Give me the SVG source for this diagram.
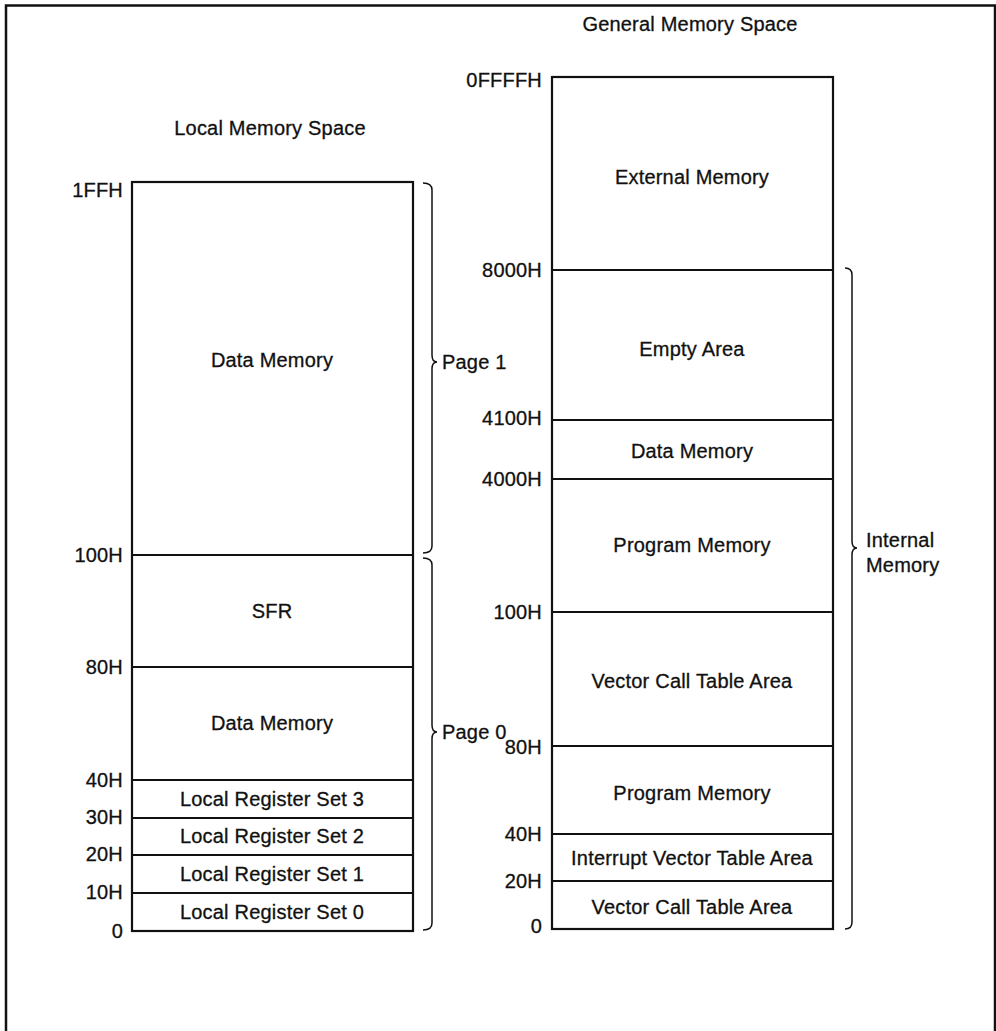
<svg xmlns="http://www.w3.org/2000/svg" width="996" height="1031" viewBox="0 0 996 1031">
<style>
text{font-family:"Liberation Sans",Arial,Helvetica,sans-serif;font-size:20px;fill:#111;stroke:#111;stroke-width:0.3;letter-spacing:0.2px}
.c{text-anchor:middle}
.r{text-anchor:end}
.box{fill:none;stroke:#111;stroke-width:2.2}
.div{stroke:#111;stroke-width:1.8}
.brace{fill:none;stroke:#111;stroke-width:1.5}
</style>
<rect width="996" height="1031" fill="#fff"/>
<g id="frame"><path d="M6 1031 V5.5 H995 V1031" fill="none" stroke="#111" stroke-width="2.5"/></g>

<g id="local-space">
<text class="c" x="270" y="135">Local Memory Space</text>
<rect class="box" x="132" y="182" width="281" height="749"/>
<g id="l-data1"><text class="c" x="272" y="367">Data Memory</text></g>
<line class="div" x1="132" y1="555" x2="413" y2="555"/>
<g id="l-sfr"><text class="c" x="272" y="618">SFR</text></g>
<line class="div" x1="132" y1="667" x2="413" y2="667"/>
<g id="l-data0"><text class="c" x="272" y="730">Data Memory</text></g>
<line class="div" x1="132" y1="780" x2="413" y2="780"/>
<g id="l-rs3"><text class="c" x="272" y="806">Local Register Set 3</text></g>
<line class="div" x1="132" y1="818" x2="413" y2="818"/>
<g id="l-rs2"><text class="c" x="272" y="843">Local Register Set 2</text></g>
<line class="div" x1="132" y1="855" x2="413" y2="855"/>
<g id="l-rs1"><text class="c" x="272" y="881">Local Register Set 1</text></g>
<line class="div" x1="132" y1="893" x2="413" y2="893"/>
<g id="l-rs0"><text class="c" x="272" y="919">Local Register Set 0</text></g>
<text class="r" x="123" y="197">1FFH</text>
<text class="r" x="123" y="562">100H</text>
<text class="r" x="123" y="674">80H</text>
<text class="r" x="123" y="787">40H</text>
<text class="r" x="123" y="824">30H</text>
<text class="r" x="123" y="861">20H</text>
<text class="r" x="123" y="899">10H</text>
<text class="r" x="123" y="938">0</text>
</g>

<g id="general-space">
<text class="c" x="690" y="31">General Memory Space</text>
<rect class="box" x="552" y="77" width="281" height="852"/>
<g id="g-ext"><text class="c" x="692" y="184">External Memory</text></g>
<line class="div" x1="552" y1="270" x2="833" y2="270"/>
<g id="g-empty"><text class="c" x="692" y="356">Empty Area</text></g>
<line class="div" x1="552" y1="420" x2="833" y2="420"/>
<g id="g-data"><text class="c" x="692" y="458">Data Memory</text></g>
<line class="div" x1="552" y1="479" x2="833" y2="479"/>
<g id="g-prog1"><text class="c" x="692" y="552">Program Memory</text></g>
<line class="div" x1="552" y1="612" x2="833" y2="612"/>
<g id="g-vct1"><text class="c" x="692" y="688">Vector Call Table Area</text></g>
<line class="div" x1="552" y1="746" x2="833" y2="746"/>
<g id="g-prog0"><text class="c" x="692" y="800">Program Memory</text></g>
<line class="div" x1="552" y1="834" x2="833" y2="834"/>
<g id="g-ivt"><text class="c" x="692" y="865">Interrupt Vector Table Area</text></g>
<line class="div" x1="552" y1="881" x2="833" y2="881"/>
<g id="g-vct0"><text class="c" x="692" y="914">Vector Call Table Area</text></g>
<text class="r" x="542" y="87">0FFFFH</text>
<text class="r" x="542" y="277">8000H</text>
<text class="r" x="542" y="425">4100H</text>
<text class="r" x="542" y="486">4000H</text>
<text class="r" x="542" y="619">100H</text>
<text class="r" x="542" y="754">80H</text>
<text class="r" x="542" y="841">40H</text>
<text class="r" x="542" y="888">20H</text>
<text class="r" x="542" y="933">0</text>
</g>

<g id="braces">
<g id="page1"><path class="brace" d="M423 183 Q432 183 432 190 V355 Q432 362 437 362 Q432 362 432 369 V546 Q432 553 423 553"/>
<text x="442" y="369">Page 1</text></g>
<g id="page0"><path class="brace" d="M423 558 Q432 558 432 565 V725 Q432 732 437 732 Q432 732 432 739 V923 Q432 930 423 930"/>
<text x="442" y="739">Page 0</text></g>
<g id="internal"><path class="brace" d="M845 268 Q852 268 852 275 V541 Q852 548 857 548 Q852 548 852 555 V922 Q852 929 845 929"/>
<text x="866" y="547">Internal</text><text x="866" y="572">Memory</text></g>
</g>
</svg>
